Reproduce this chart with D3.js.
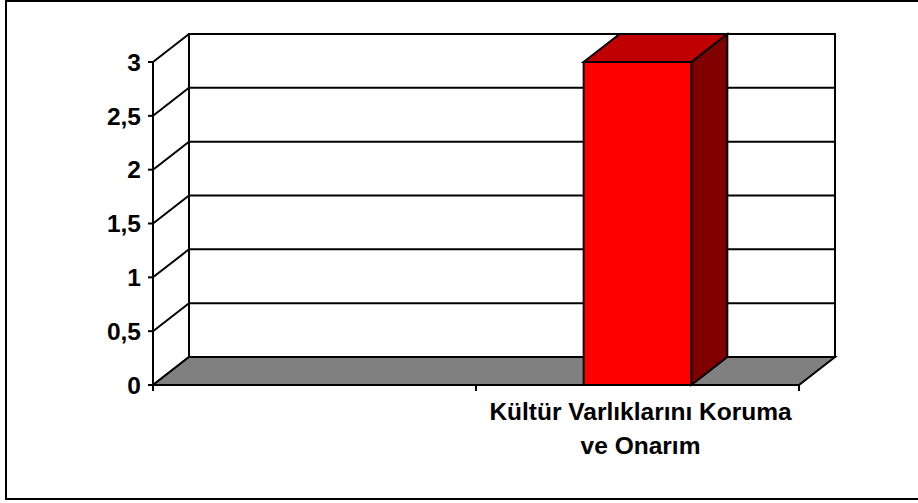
<!DOCTYPE html>
<html>
<head>
<meta charset="utf-8">
<script src="https://cdn.jsdelivr.net/npm/d3@7"></script>
<style>
  body { margin: 0; background: #fff; }
  svg text { font-family: "Liberation Sans", Arial, sans-serif; font-weight: bold; }
</style>
</head>
<body>
<div id="chart"></div>
<script>
// chart data
const categories = ["", "Kültür Varlıklarını Koruma ve Onarım"];
const labelLines = [[], ["Kültür Varlıklarını Koruma", "ve Onarım"]];
const values = [0, 3];
const yTicks = [0, 0.5, 1, 1.5, 2, 2.5, 3];
const yTickLabels = ["0", "0,5", "1", "1,5", "2", "2,5", "3"];

const width = 918, height = 503;
const depthX = 36, depthY = -28;

const svg = d3.select("#chart").append("svg")
  .attr("width", width)
  .attr("height", height);

// outer frame
svg.append("rect")
  .attr("x", 6).attr("y", 1)
  .attr("width", 920).attr("height", 498)
  .attr("fill", "none").attr("stroke", "#000").attr("stroke-width", 2);

const x = d3.scaleBand().domain(categories).range([153, 799]).padding(0);
const y = d3.scaleLinear().domain([0, 3]).range([385, 62]);

const x0 = x.range()[0], x1 = x.range()[1];

// back wall
svg.append("rect")
  .attr("x", x0 + depthX).attr("y", y(3) + depthY)
  .attr("width", x1 - x0).attr("height", y(0) - y(3))
  .attr("fill", "#fff").attr("stroke", "#000").attr("stroke-width", 2);

// grid lines on back and side walls
const grid = svg.append("g").attr("stroke", "#000").attr("stroke-width", 2).attr("fill", "none");
yTicks.forEach(t => {
  grid.append("line")
    .attr("x1", x0 + depthX).attr("x2", x1 + depthX)
    .attr("y1", y(t) + depthY).attr("y2", y(t) + depthY);
  grid.append("line")
    .attr("x1", x0).attr("x2", x0 + depthX)
    .attr("y1", y(t)).attr("y2", y(t) + depthY);
});

// floor
svg.append("path")
  .attr("d", d3.line()([[x0, y(0)], [x1, y(0)], [x1 + depthX, y(0) + depthY], [x0 + depthX, y(0) + depthY]]) + "Z")
  .attr("fill", "#808080").attr("stroke", "#000").attr("stroke-width", 2);

// y axis line
svg.append("line")
  .attr("x1", x0).attr("x2", x0)
  .attr("y1", y(3)).attr("y2", y(0))
  .attr("stroke", "#000").attr("stroke-width", 2);

// y ticks + labels
yTicks.forEach((t, i) => {
  svg.append("line")
    .attr("x1", x0 - 5).attr("x2", x0)
    .attr("y1", y(t)).attr("y2", y(t))
    .attr("stroke", "#000").attr("stroke-width", 2);
  svg.append("text")
    .attr("x", x0 - 12).attr("y", y(t))
    .attr("dy", "0.36em")
    .attr("text-anchor", "end")
    .attr("font-size", 24.5)
    .text(yTickLabels[i]);
});

// x ticks
const xTickPos = categories.map(c => x(c)).concat([x1]);
xTickPos.forEach(p => {
  svg.append("line")
    .attr("x1", p).attr("x2", p)
    .attr("y1", y(0)).attr("y2", y(0) + 6)
    .attr("stroke", "#000").attr("stroke-width", 2);
});

// bars
const barW = x.bandwidth() / 3;
categories.forEach((c, i) => {
  if (!values[i]) return;
  const bx = x(c) + (x.bandwidth() - barW) / 2;
  const bt = y(values[i]), bb = y(0);
  const g = svg.append("g").attr("stroke", "#000").attr("stroke-width", 2).attr("stroke-linejoin", "miter");
  g.append("path")
    .attr("d", d3.line()([[bx + barW, bt], [bx + barW + depthX, bt + depthY], [bx + barW + depthX, bb + depthY], [bx + barW, bb]]) + "Z")
    .attr("fill", "#800000");
  g.append("path")
    .attr("d", d3.line()([[bx, bt], [bx + barW, bt], [bx + barW + depthX, bt + depthY], [bx + depthX, bt + depthY]]) + "Z")
    .attr("fill", "#C00000");
  g.append("rect")
    .attr("x", bx).attr("y", bt)
    .attr("width", barW).attr("height", bb - bt)
    .attr("fill", "#FF0000");
});

// category labels
categories.forEach((c, i) => {
  const t = svg.append("text")
    .attr("text-anchor", "middle")
    .attr("font-size", 24.5);
  labelLines[i].forEach((line, j) => {
    t.append("tspan")
      .attr("x", x(c) + x.bandwidth() / 2 + 3)
      .attr("y", 420 + j * 34)
      .text(line);
  });
});
</script>
</body>
</html>
